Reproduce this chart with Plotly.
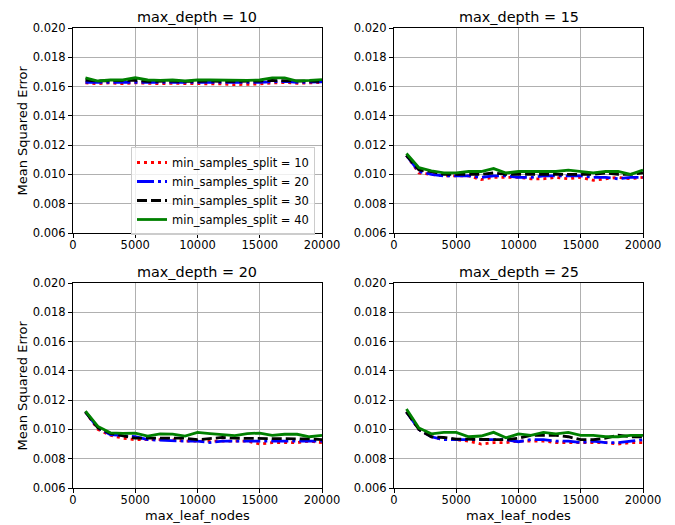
import plotly.graph_objects as go

max_leaf_nodes = [1000, 2000, 3000, 4000, 5000, 6000, 7000, 8000, 9000, 10000,
                  11000, 12000, 13000, 14000, 15000, 16000, 17000, 18000, 19000, 20000]

depth_titles = ["max_depth = 10", "max_depth = 15", "max_depth = 20", "max_depth = 25"]
series_names = ["min_samples_split = 10", "min_samples_split = 20",
                "min_samples_split = 30", "min_samples_split = 40"]

# max_depth = 10
d10_s10 = [0.01625, 0.0162, 0.01625, 0.0162, 0.01625, 0.0162, 0.0162, 0.01622, 0.01622, 0.0162,
           0.0162, 0.01618, 0.01613, 0.01615, 0.01618, 0.01625, 0.01628, 0.01622, 0.01625, 0.01628]
d10_s20 = [0.01628, 0.01628, 0.01628, 0.01625, 0.0163, 0.01625, 0.01625, 0.01628, 0.01628, 0.01628,
           0.01625, 0.01625, 0.01628, 0.01628, 0.01628, 0.01632, 0.01635, 0.01628, 0.0163, 0.01632]
d10_s30 = [0.01645, 0.01638, 0.0164, 0.0164, 0.01643, 0.01635, 0.01638, 0.01638, 0.01635, 0.01638,
           0.01638, 0.01635, 0.01635, 0.01638, 0.01638, 0.01642, 0.0164, 0.01635, 0.01635, 0.01635]
d10_s40 = [0.0166, 0.01638, 0.01645, 0.01645, 0.0166, 0.01645, 0.01643, 0.01645, 0.01638, 0.01645,
           0.01645, 0.01643, 0.01645, 0.01643, 0.01645, 0.0166, 0.0166, 0.01638, 0.01642, 0.01648]

# max_depth = 15
d15_s10 = [0.0113, 0.0101, 0.0100, 0.0099, 0.0099, 0.0099, 0.00965, 0.0098, 0.0098, 0.0098,
           0.0097, 0.0097, 0.0098, 0.0097, 0.0098, 0.0096, 0.0097, 0.0098, 0.0097, 0.0098]
d15_s20 = [0.0113, 0.0102, 0.0100, 0.0099, 0.0099, 0.0099, 0.0098, 0.0099, 0.0099, 0.0098,
           0.0098, 0.0099, 0.0099, 0.0099, 0.0099, 0.0098, 0.0098, 0.0097, 0.0098, 0.0098]
d15_s30 = [0.0113, 0.0103, 0.0102, 0.0100, 0.0100, 0.0100, 0.0100, 0.0101, 0.0100, 0.0100,
           0.0100, 0.0100, 0.0100, 0.0100, 0.0100, 0.0100, 0.0101, 0.0100, 0.0100, 0.0101]
d15_s40 = [0.01143, 0.01046, 0.01025, 0.0101, 0.0101, 0.0102, 0.0102, 0.0104, 0.0101, 0.0102,
           0.0102, 0.0102, 0.0102, 0.0103, 0.0102, 0.0101, 0.0102, 0.0102, 0.0100, 0.0103]

# max_depth = 20
d20_s10 = [0.0112, 0.0100, 0.0096, 0.0094, 0.0093, 0.0093, 0.0093, 0.0093, 0.0092, 0.0092,
           0.0092, 0.0092, 0.0092, 0.0092, 0.0090, 0.0091, 0.0091, 0.0091, 0.0092, 0.0091]
d20_s20 = [0.0112, 0.0101, 0.00965, 0.00955, 0.0095, 0.0093, 0.00927, 0.0092, 0.0092, 0.0092,
           0.0091, 0.0092, 0.0092, 0.0092, 0.0092, 0.0092, 0.0092, 0.0092, 0.0092, 0.0092]
d20_s30 = [0.0112, 0.0101, 0.00973, 0.00955, 0.0094, 0.0094, 0.0094, 0.00935, 0.0094, 0.0093,
           0.0094, 0.00945, 0.0094, 0.0094, 0.0094, 0.0094, 0.0094, 0.00935, 0.00935, 0.0093]
d20_s40 = [0.01125, 0.0102, 0.00977, 0.00973, 0.00975, 0.00955, 0.0097, 0.00968, 0.00955, 0.0098,
           0.00972, 0.00965, 0.00958, 0.00972, 0.00975, 0.0096, 0.00967, 0.00967, 0.0095, 0.0096]

# max_depth = 25
d25_s10 = [0.0112, 0.0100, 0.0095, 0.0093, 0.0093, 0.0092, 0.0090, 0.0091, 0.0091, 0.0092,
           0.0092, 0.0092, 0.0091, 0.0091, 0.0091, 0.0091, 0.0091, 0.0090, 0.0091, 0.0091]
d25_s20 = [0.0112, 0.0100, 0.0095, 0.0093, 0.0093, 0.0093, 0.0093, 0.0093, 0.0093, 0.00916,
           0.0093, 0.0093, 0.0092, 0.0092, 0.0091, 0.0092, 0.0091, 0.0091, 0.0092, 0.0093]
d25_s30 = [0.0112, 0.0100, 0.0095, 0.00945, 0.00934, 0.00934, 0.0093, 0.0093, 0.0093, 0.0094,
           0.0096, 0.0096, 0.0096, 0.0095, 0.0093, 0.0093, 0.0094, 0.0096, 0.0095, 0.0095]
d25_s40 = [0.0114, 0.0101, 0.0097, 0.0098, 0.0098, 0.0095, 0.00955, 0.0098, 0.00943, 0.0097,
           0.0096, 0.0098, 0.0097, 0.0098, 0.0096, 0.0096, 0.0095, 0.0095, 0.0096, 0.0096]

y_ticks = [0.006, 0.008, 0.010, 0.012, 0.014, 0.016, 0.018, 0.020]
x_ticks = [0, 5000, 10000, 15000, 20000]

panels = [
    [d10_s10, d10_s20, d10_s30, d10_s40],
    [d15_s10, d15_s20, d15_s30, d15_s40],
    [d20_s10, d20_s20, d20_s30, d20_s40],
    [d25_s10, d25_s20, d25_s30, d25_s40],
]

W, H = 675, 525
LW = 2.8
styles = [
    dict(color="red", dash="3px,4px"),
    dict(color="blue", dash="17px,4px,3px,4px"),
    dict(color="black", dash="10px,4px"),
    dict(color="green", dash="solid"),
]

# pixel boxes for the four panels (left, right, top, bottom)
boxes = [(73, 322, 28, 233), (394, 643, 28, 233), (73, 322, 283, 488), (394, 643, 283, 488)]

FONT = "DejaVu Sans"
fig = go.Figure()
layout = {}
annotations = []
for i, (series, box) in enumerate(zip(panels, boxes)):
    ax = "" if i == 0 else str(i + 1)
    for j, ys in enumerate(series):
        fig.add_trace(go.Scatter(
            x=max_leaf_nodes, y=ys, mode="lines", name=series_names[j],
            line=dict(color=styles[j]["color"], dash=styles[j]["dash"], width=LW),
            xaxis="x" + ax, yaxis="y" + ax, showlegend=(i == 0),
        ))
    l, r, t, b = box
    axis_common = dict(showline=True, mirror=True, linecolor="black", linewidth=1,
                       showgrid=True, gridcolor="#b0b0b0", gridwidth=0.8,
                       ticks="outside", ticklen=4, tickwidth=1, tickcolor="black",
                       tickfont=dict(family=FONT, size=11.5, color="black"),
                       zeroline=False, automargin=False)
    layout["xaxis" + ax] = dict(axis_common, domain=[l / W, r / W], range=[0, 20000],
                                tickvals=x_ticks, tickformat="d", anchor="y" + ax,
                                ticklabelstandoff=-3)
    layout["yaxis" + ax] = dict(axis_common, domain=[1 - b / H, 1 - t / H], range=[0.006, 0.020],
                                tickvals=y_ticks, tickformat=".3f", anchor="x" + ax)
    annotations.append(dict(text=depth_titles[i], x=(l + r) / 2 / W, y=1 - (t - 1) / H,
                            xref="paper", yref="paper", xanchor="center", yanchor="bottom",
                            showarrow=False, font=dict(family=FONT, size=14.4, color="black")))
    if i in (0, 2):
        annotations.append(dict(text="Mean Squared Error", x=22 / W, y=1 - (t + b) / 2 / H,
                                xref="paper", yref="paper", xanchor="center", yanchor="middle",
                                textangle=-90, showarrow=False,
                                font=dict(family=FONT, size=13, color="black")))
    if i in (2, 3):
        annotations.append(dict(text="max_leaf_nodes", x=(l + r) / 2 / W, y=1 - 515 / H,
                                xref="paper", yref="paper", xanchor="center", yanchor="middle",
                                showarrow=False, font=dict(family=FONT, size=13, color="black")))

fig.update_layout(
    width=W, height=H, margin=dict(l=0, r=0, t=0, b=0, autoexpand=False),
    paper_bgcolor="white", plot_bgcolor="white",
    font=dict(family=FONT, size=11.5, color="black"),
    annotations=annotations,
    legend=dict(x=315 / W, y=1 - 147 / H, xanchor="right", yanchor="top",
                bgcolor="rgba(255,255,255,0.8)", bordercolor="#cccccc", borderwidth=1,
                font=dict(family=FONT, size=11.5, color="black"), tracegroupgap=0),
    **layout,
)

fig.write_html("out.html")
